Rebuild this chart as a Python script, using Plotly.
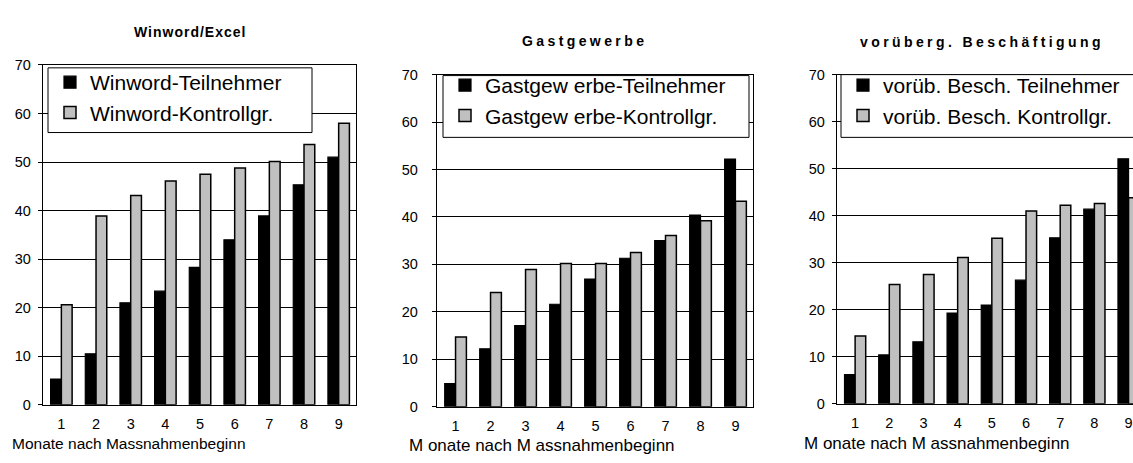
import plotly.graph_objects as go

W, H = 1133, 463

months = [1, 2, 3, 4, 5, 6, 7, 8, 9]
month_labels = ["1", "2", "3", "4", "5", "6", "7", "8", "9"]
y_ticks = [0, 10, 20, 30, 40, 50, 60, 70]

titles = ["Winword/Excel", "Gastgewerbe", "vorüberg. Beschäftigung"]
x_titles = ["Monate nach Massnahmenbeginn", "M onate nach M assnahmenbeginn", "M onate nach M assnahmenbeginn"]

names_teil = ["Winword-Teilnehmer", "Gastgew erbe-Teilnehmer", "vorüb. Besch. Teilnehmer"]
names_kontr = ["Winword-Kontrollgr.", "Gastgew erbe-Kontrollgr.", "vorüb. Besch. Kontrollgr."]

winword_teil = [5.3, 10.5, 21.0, 23.4, 28.3, 34.0, 38.9, 45.3, 51.0]
winword_kontr = [20.6, 38.9, 43.1, 46.1, 47.5, 48.8, 50.1, 53.6, 58.0]
gast_teil = [4.9, 12.2, 17.1, 21.6, 26.9, 31.3, 35.0, 40.4, 52.2]
gast_kontr = [14.7, 24.1, 28.9, 30.2, 30.2, 32.5, 36.1, 39.2, 43.3]
vorueb_teil = [6.2, 10.4, 13.2, 19.3, 21.0, 26.3, 35.3, 41.4, 52.1]
vorueb_kontr = [14.4, 25.4, 27.5, 31.1, 35.2, 41.0, 42.2, 42.6, 43.8]

teil = [winword_teil, gast_teil, vorueb_teil]
kontr = [winword_kontr, gast_kontr, vorueb_kontr]

FONT = "Liberation Sans, Arial, sans-serif"
BLACK = "#000000"
GRAY = "#c0c0c0"

def px(x):
    return x / W

def py(y):
    return 1 - y / H

# plot-area pixel boxes (left, right, top, bottom)
boxes = [(43, 356, 59, 411), (437, 753, 69, 413), (837, 1133, 69, 410)]
x_ranges = [[0.47, 9.5], [0.47, 9.5], [0.47, 9.13]]
legend_pos = [(50, 56), (445, 59), (843, 59)]
legend_boxes = [(48, 312, 62, 129), (443, 749, 70, 134), (841, 1140, 69, 134)]
title_pos = [(190, 25, 14, 1.0), (584, 34, 14, 3.4), (982, 35, 14, 3.4)]
xtitle_pos = [(10, 451, 15.5), (407, 453, 17), (802, 451, 17)]
ylab_standoff = [4, 11, 4]

fig = go.Figure()
layout = dict(
    width=W, height=H,
    margin=dict(l=0, r=0, t=0, b=0),
    paper_bgcolor="white", plot_bgcolor="white",
    barmode="group", bargap=0.38, bargroupgap=0.0,
    font=dict(family=FONT, color=BLACK, size=15),
    shapes=[], annotations=[],
)

for i in range(3):
    sfx = "" if i == 0 else str(i + 1)
    leg = "legend" if i == 0 else "legend" + str(i + 1)
    fig.add_trace(go.Bar(
        x=months, y=teil[i], name=names_teil[i],
        marker=dict(color=BLACK, line=dict(color=BLACK, width=1.2)),
        xaxis="x" + sfx, yaxis="y" + sfx, legend=leg,
    ))
    fig.add_trace(go.Bar(
        x=months, y=kontr[i], name=names_kontr[i],
        marker=dict(color=GRAY, line=dict(color=BLACK, width=1.5)),
        xaxis="x" + sfx, yaxis="y" + sfx, legend=leg,
    ))
    l, r, t, b = boxes[i]
    layout["xaxis" + sfx] = dict(
        domain=[px(l), px(r)], anchor="y" + sfx, range=x_ranges[i],
        tickmode="array", tickvals=months, ticktext=month_labels,
        showgrid=False, zeroline=False, showline=True, linecolor=BLACK, linewidth=1.3,
        mirror=True, ticks="", ticklabelstandoff=6,
        tickfont=dict(family=FONT, size=14.5, color=BLACK), fixedrange=True,
    )
    layout["yaxis" + sfx] = dict(
        domain=[py(b), py(t)], anchor="x" + sfx, range=[0, 70],
        tickmode="array", tickvals=y_ticks,
        showgrid=True, gridcolor=BLACK, gridwidth=1, zeroline=False,
        showline=True, linecolor=BLACK, linewidth=1.3, mirror=(i < 2),
        ticks="outside", ticklen=4, tickcolor=BLACK, ticklabelstandoff=ylab_standoff[i],
        tickfont=dict(family=FONT, size=14.5, color=BLACK), fixedrange=True,
    )
    lx, ly = legend_pos[i]
    layout[leg] = dict(
        x=px(lx), y=py(ly), xanchor="left", yanchor="top",
        bgcolor="rgba(0,0,0,0)", borderwidth=0,
        font=dict(family=FONT, size=21, color=BLACK),
        traceorder="normal", itemclick=False, itemdoubleclick=False,
    )
    bx0, bx1, by0, by1 = legend_boxes[i]
    layout["shapes"].append(dict(
        type="rect", xref="paper", yref="paper",
        x0=px(bx0), x1=px(bx1), y0=py(by1), y1=py(by0),
        line=dict(color=BLACK, width=1), fillcolor="white", layer="above",
    ))
    tx, ty, ts, tsp = title_pos[i]
    layout["annotations"].append(dict(
        text='<span style="letter-spacing:%spx"><b>%s</b></span>' % (tsp, titles[i]),
        xref="paper", yref="paper", x=px(tx), y=py(ty),
        xanchor="center", yanchor="middle", showarrow=False,
        font=dict(family=FONT, size=ts, color=BLACK),
    ))
    xx, xy, xs = xtitle_pos[i]
    layout["annotations"].append(dict(
        text=x_titles[i], xref="paper", yref="paper", x=px(xx), y=py(xy),
        xanchor="left", yanchor="middle", showarrow=False,
        font=dict(family=FONT, size=xs, color=BLACK),
    ))

fig.update_layout(**layout)

post = (
    "document.documentElement.style.margin='0';"
    "document.documentElement.style.padding='0';"
    "document.documentElement.style.overflow='hidden';"
    "document.body.style.margin='0';"
    "document.body.style.padding='0';"
    "document.body.style.overflow='hidden';"
    "var gd=document.getElementById('{plot_id}');"
    "gd.style.position='absolute';gd.style.left='0px';gd.style.top='0px';"
)
fig.write_html("out.html", config={"displayModeBar": False}, post_script=post)
